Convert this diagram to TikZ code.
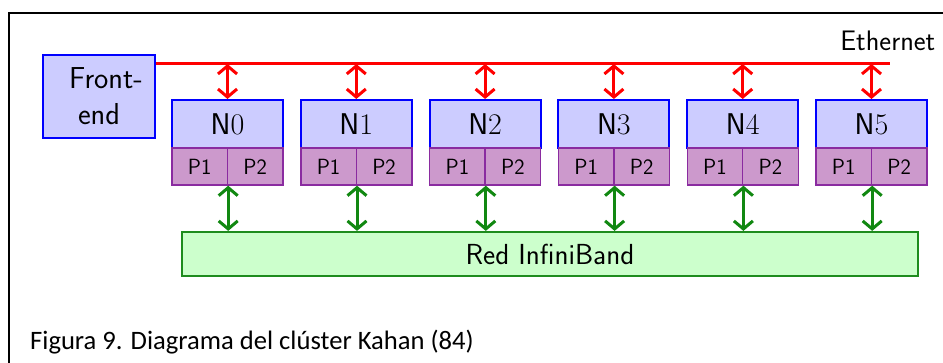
\documentclass[tikz,border=0pt]{standalone}
\usepackage{fontspec}
\usetikzlibrary{arrows.meta}
\newfontfamily\capfont{Carlito}
\definecolor{nodefill}{HTML}{CCCCFF}
\definecolor{pfill}{HTML}{CC99CC}
\definecolor{pborder}{HTML}{8A2BA0}
\definecolor{ibfill}{HTML}{CCFFCC}
\definecolor{ibborder}{HTML}{1E8C1E}
\definecolor{ibarrowc}{HTML}{118811}
\begin{document}
\begin{tikzpicture}[x=1pt,y=-1pt,
  barb/.tip={Straight Barb[length=8pt,width=19pt]},
  frontbox/.style={draw=blue, fill=nodefill, line width=2pt, minimum width=112pt, minimum height=83pt, inner sep=0pt, align=center, font=\fontsize{30.3}{36}\selectfont\sffamily},
  nbox/.style={draw=blue, fill=nodefill, line width=2pt, minimum width=111pt, minimum height=48pt, inner sep=0pt, font=\fontsize{30}{32}\selectfont\sffamily},
  pcell/.style={draw=pborder, fill=pfill, line width=1.4pt, minimum width=55.5pt, minimum height=37pt, inner sep=0pt, font=\fontsize{22}{24}\selectfont\sffamily},
  ibbox/.style={draw=ibborder, fill=ibfill, line width=2.2pt, minimum width=736pt, minimum height=44pt, inner sep=0pt, font=\fontsize{29}{32}\selectfont\sffamily},
  ethline/.style={draw=red, line width=3pt},
  etharrow/.style={draw=red, line width=3pt, barb-barb},
  ibarrow/.style={draw=ibarrowc, line width=3pt, barb-barb},
  frameline/.style={draw=black, line width=1.5pt},
  labeltext/.style={inner sep=0pt, font=\fontsize{28.2}{30}\selectfont\sffamily},
  captext/.style={inner sep=0pt, font=\fontsize{26.6}{30}\selectfont\capfont}
]
\useasboundingbox (0,0) rectangle (943,363);
% outer frame
\coordinate (fbl) at (9,363);
\coordinate (ftl) at (9,13);
\coordinate (ftr) at (943,13);
\draw[frameline] (fbl) -- (ftl) -- (ftr);

% front-end
\node[frontbox] (fe) at (99,96.5) {\hspace*{14pt}Front-\\end};

% ethernet bus
\coordinate (eth) at (890,64);
\draw[ethline] (fe.east |- eth) -- (eth);
\node[labeltext, anchor=base east] (ethlabel) at (935.5,50.5) {Ethernet};

% infiniband
\node[ibbox] (ib) at (550,254) {Red InfiniBand};

% compute nodes
\foreach \i in {0,...,5}{
  \pgfmathsetmacro{\cx}{227.5+128.8*\i}
  \node[nbox] (n\i) at (\cx,124) {N{\rmfamily\i}};
  \node[pcell] (p\i a) at (\cx-27.75,166.5) {P1};
  \node[pcell] (p\i b) at (\cx+27.75,166.5) {P2};
  \draw[etharrow] (n\i.north |- eth) -- (n\i.north);
  \draw[ibarrow] (p\i a.south east) -- (p\i a.south east |- ib.north);
}

% caption
\node[captext, anchor=base west] (cap) at (30,349.5) {Figura 9. Diagrama del clúster Kahan (84)};
\end{tikzpicture}
\end{document}
